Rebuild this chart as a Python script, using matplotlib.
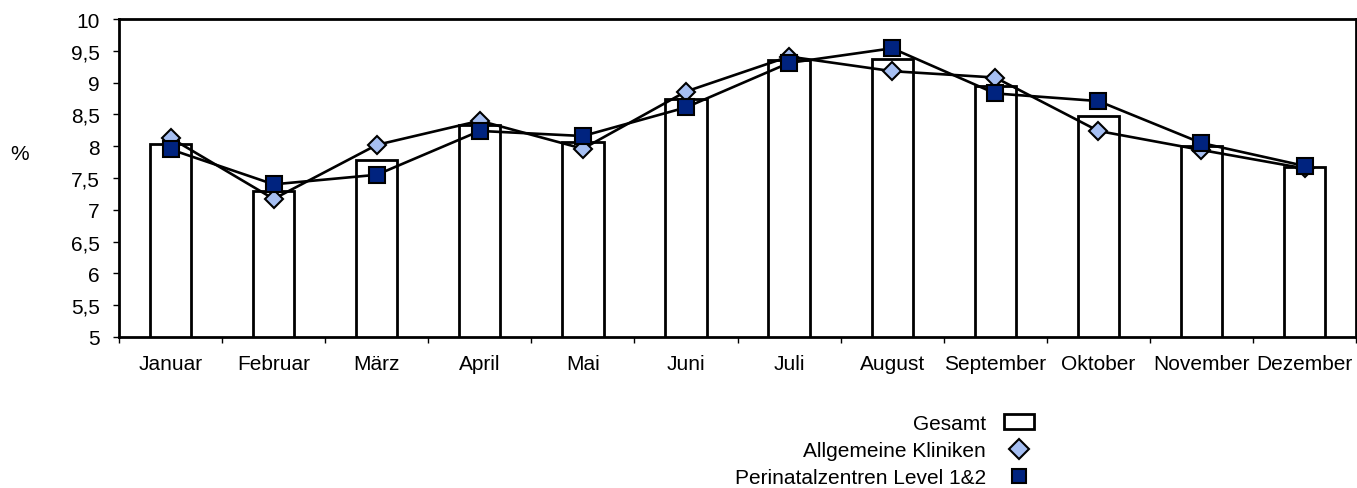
import numpy as np
import matplotlib.pyplot as plt
from matplotlib.patches import Patch
from matplotlib.lines import Line2D

monate = ['Januar', 'Februar', 'März', 'April', 'Mai', 'Juni', 'Juli',
          'August', 'September', 'Oktober', 'November', 'Dezember']
gesamt = [8.03, 7.29, 7.78, 8.34, 8.07, 8.74, 9.36, 9.37, 8.95, 8.48, 8.01, 7.68]
allgemein = [8.13, 7.17, 8.02, 8.40, 7.96, 8.86, 9.41, 9.18, 9.08, 8.24, 7.94, 7.65]
perinatal = [7.95, 7.40, 7.55, 8.24, 8.16, 8.61, 9.31, 9.54, 8.83, 8.71, 8.05, 7.69]

plt.rcParams['font.family'] = ['Liberation Sans', 'DejaVu Sans']

fig = plt.figure(figsize=(13.57, 4.89), dpi=100)
ax = fig.add_axes([0.0877, 0.309, 0.9116, 0.65])
x = np.arange(len(monate))

ax.bar(x, gesamt, width=0.4, bottom=0, color='white', edgecolor='black',
       linewidth=2, zorder=2)
ax.plot(x, allgemein, color='black', lw=1.9, marker='D', markersize=9,
        markerfacecolor='#A6BFF2', markeredgecolor='black', markeredgewidth=1.5,
        zorder=3)
ax.plot(x, perinatal, color='black', lw=1.9, marker='s', markersize=11.5,
        markerfacecolor='#00237F', markeredgecolor='black', markeredgewidth=1.5,
        zorder=4)

ax.set_xlim(-0.5, 11.5)
ax.set_ylim(5, 10)
yt = np.arange(5, 10.01, 0.5)
ax.set_yticks(yt)
ax.set_yticklabels([f'{v:g}'.replace('.', ',') for v in yt])
ax.set_xticks(x)
ax.set_xticklabels(monate)
ax.set_xticks(np.arange(-0.5, 12, 1), minor=True)
ax.tick_params(axis='x', which='major', length=0, pad=12, labelsize=15)
ax.tick_params(axis='x', which='minor', length=4, width=1)
ax.tick_params(axis='y', length=4, width=1, labelsize=15, pad=10)
for s in ax.spines.values():
    s.set_linewidth(2)

fig.text(0.0074, 0.685, '%', fontsize=15, ha='left', va='center')

handles = [
    Patch(facecolor='white', edgecolor='black', linewidth=2),
    Line2D([], [], ls='none', marker='D', markersize=10, markerfacecolor='#A6BFF2',
           markeredgecolor='black', markeredgewidth=1.5),
    Line2D([], [], ls='none', marker='s', markersize=10, markerfacecolor='#00237F',
           markeredgecolor='black', markeredgewidth=1.5),
]
labels = ['Gesamt', 'Allgemeine Kliniken', 'Perinatalzentren Level 1&2']
fig.legend(handles, labels, loc='upper right', bbox_to_anchor=(0.762, 0.152),
           bbox_transform=fig.transFigure, frameon=False, markerfirst=False,
           fontsize=15, handlelength=1.45, handleheight=0.7, labelspacing=0.4,
           handletextpad=0.85, borderpad=0, borderaxespad=0)

fig.savefig('out.png', dpi=100)
